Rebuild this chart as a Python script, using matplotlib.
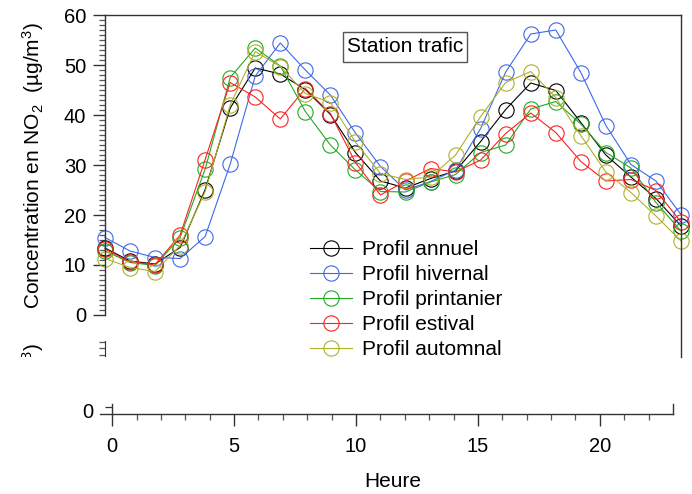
import matplotlib
matplotlib.use('Agg')
import matplotlib.pyplot as plt
from matplotlib.ticker import FixedLocator
from matplotlib.transforms import Bbox, TransformedBbox
from matplotlib.patches import Rectangle

plt.rcParams['font.family'] = ['Liberation Sans', 'DejaVu Sans']
plt.rcParams['mathtext.fontset'] = 'custom'
plt.rcParams['mathtext.rm'] = 'Liberation Sans'
plt.rcParams['mathtext.it'] = 'Liberation Sans:italic'
plt.rcParams['mathtext.bf'] = 'Liberation Sans:bold'

# ---------------- data ----------------
hours = list(range(24))
annuel = [13.4, 10.8, 10.2, 13.5, 25.1, 41.4, 49.4, 48.2, 45.1, 40.1, 32.5, 26.8,
          25.4, 27.3, 28.8, 34.7, 41.1, 46.4, 44.9, 38.5, 32.0, 27.6, 23.3, 17.8]
hivernal = [15.5, 12.8, 11.5, 11.3, 15.7, 30.2, 47.8, 54.4, 49.0, 44.0, 36.4, 29.7,
            25.0, 26.7, 29.0, 37.3, 48.6, 56.2, 57.0, 48.5, 37.9, 30.1, 26.8, 20.1]
printanier = [12.8, 10.5, 9.9, 15.5, 29.2, 47.5, 53.4, 49.8, 40.7, 34.0, 29.0, 24.7,
              24.6, 26.6, 28.1, 32.5, 34.0, 41.2, 42.7, 38.2, 32.5, 29.4, 22.5, 16.8]
estival = [13.2, 10.6, 10.1, 16.0, 31.1, 46.5, 43.6, 39.2, 45.3, 40.3, 30.5, 24.0,
           26.8, 29.3, 28.6, 31.0, 36.3, 40.4, 36.5, 30.7, 26.8, 27.1, 24.9, 18.6]
automnal = [11.3, 9.5, 8.7, 13.9, 24.7, 42.0, 52.7, 49.7, 44.3, 42.5, 34.6, 28.3,
            27.1, 27.6, 32.0, 39.7, 46.5, 48.7, 43.5, 35.9, 28.6, 24.5, 19.8, 14.8]

series_labels = ['Profil annuel', 'Profil hivernal', 'Profil printanier',
                 'Profil estival', 'Profil automnal']
series_values = [annuel, hivernal, printanier, estival, automnal]
series_colors = ['#000000', '#3f68e8', '#22aa22', '#ff2020', '#b0b02a']

y_major = [0, 10, 20, 30, 40, 50, 60]
y_minor = list(range(0, 61))
x_major = [0, 5, 10, 15, 20]
x_minor = list(range(0, 23))
x_ticklabels = ['0', '5', '10', '15', '20']

ylabel_text = 'Concentration en NO$_2$  (µg/m$^3$)'
frag_text = '(µg/m$^3$)'
xlabel_text = 'Heure'
title_text = 'Station trafic'

# ---------------- figure ----------------
W, H = 692, 494
fig = plt.figure(figsize=(W / 100, H / 100), dpi=100)
fig.patch.set_facecolor('white')


def fx(px):
    return px / W


def fy(py):
    return 1 - py / H


AX_COLOR = '#333333'
TICK_FS = 14.5
TEXT_FS = 15

# main axes
ax = fig.add_axes([fx(105), fy(357), fx(681) - fx(105), fy(15) - fy(357)])
ax.set_xlim(0, 23)
ax.set_ylim(-8.4, 60)
ax.patch.set_alpha(0)
for s in ['left', 'right', 'top']:
    ax.spines[s].set_color(AX_COLOR)
    ax.spines[s].set_linewidth(1.0)
ax.spines['bottom'].set_visible(False)
ax.spines['left'].set_bounds(0, 60)
ax.set_xticks([])
ax.yaxis.set_major_locator(FixedLocator(y_major))
ax.yaxis.set_minor_locator(FixedLocator(y_minor))
ax.tick_params(axis='y', which='major', direction='out', length=8.6, width=1.0,
               color=AX_COLOR, labelsize=TICK_FS, pad=5)
ax.tick_params(axis='y', which='minor', direction='out', length=4.6, width=0.9,
               color='#555555')

for vals, lab, col in zip(series_values, series_labels, series_colors):
    ax.plot(hours, vals, color=col, lw=0.8, marker='o', markersize=11,
            markerfacecolor='none', markeredgecolor=col, markeredgewidth=0.8,
            label=lab, clip_on=False)

leg = ax.legend(loc='upper left', bbox_to_anchor=(fx(310), fy(240)),
                bbox_transform=fig.transFigure, frameon=False, fontsize=TEXT_FS,
                handlelength=2.0, handletextpad=0.48, labelspacing=0.29,
                borderpad=0, borderaxespad=0)

# ylabel
fig.text(fx(33), fy(166), ylabel_text, rotation=90, ha='center', va='center',
         fontsize=TEXT_FS)

# clipped fragment of another panel's label
frag = fig.text(fx(33), fy(342.5), frag_text, rotation=90, ha='center', va='top',
                fontsize=TEXT_FS)
frag.set_clip_box(TransformedBbox(Bbox.from_extents(0, fy(357), 1, fy(340)),
                                  fig.transFigure))
frag.set_clip_on(True)

# small axis fragment below main axes
ax3 = fig.add_axes([fx(105), fy(356), 0.002, fy(341.5) - fy(356)])
ax3.patch.set_alpha(0)
for s in ['right', 'top', 'bottom']:
    ax3.spines[s].set_visible(False)
ax3.spines['left'].set_color(AX_COLOR)
ax3.set_ylim(0, 1)
ax3.set_xticks([])
ax3.set_yticks([0.07, 0.53, 0.98])
ax3.set_yticklabels([])
ax3.tick_params(axis='y', direction='out', length=4.4, width=0.9, color='#555555')

# station box
fig.add_artist(Rectangle((fx(343), fy(62)), fx(467) - fx(343), fy(32) - fy(62),
                         transform=fig.transFigure, facecolor='white',
                         edgecolor='#555555', lw=1.0))
fig.text(fx(405), fy(47), title_text, ha='center', va='center', fontsize=TEXT_FS)

# lower x axis
ax2 = fig.add_axes([fx(100), fy(414), fx(673) - fx(100), fy(404) - fy(414)])
ax2.patch.set_alpha(0)
ax2.set_xlim(-0.5, 23)
ax2.set_ylim(0, 1)
ax2.spines['top'].set_visible(False)
for s in ['left', 'right', 'bottom']:
    ax2.spines[s].set_color(AX_COLOR)
    ax2.spines[s].set_linewidth(1.0)
ax2.spines['left'].set_position(('data', 0))
ax2.xaxis.set_major_locator(FixedLocator(x_major))
ax2.xaxis.set_minor_locator(FixedLocator(x_minor))
ax2.set_xticklabels(x_ticklabels)
ax2.tick_params(axis='x', which='major', direction='out', length=8.6, width=1.0,
                color=AX_COLOR, labelsize=TICK_FS, pad=8)
ax2.tick_params(axis='x', which='minor', direction='out', length=4.4, width=0.9,
                color='#555555')
ax2.set_yticks([0.7])
ax2.set_yticklabels([])
ax2.tick_params(axis='y', direction='out', length=5, width=0.9, color=AX_COLOR)
fig.text(fx(88), fy(412.5), '0', ha='center', va='center', fontsize=TICK_FS)

fig.text(fx(393), fy(481), xlabel_text, ha='center', va='center', fontsize=TEXT_FS)

fig.savefig('out.png', dpi=100, facecolor='white')
